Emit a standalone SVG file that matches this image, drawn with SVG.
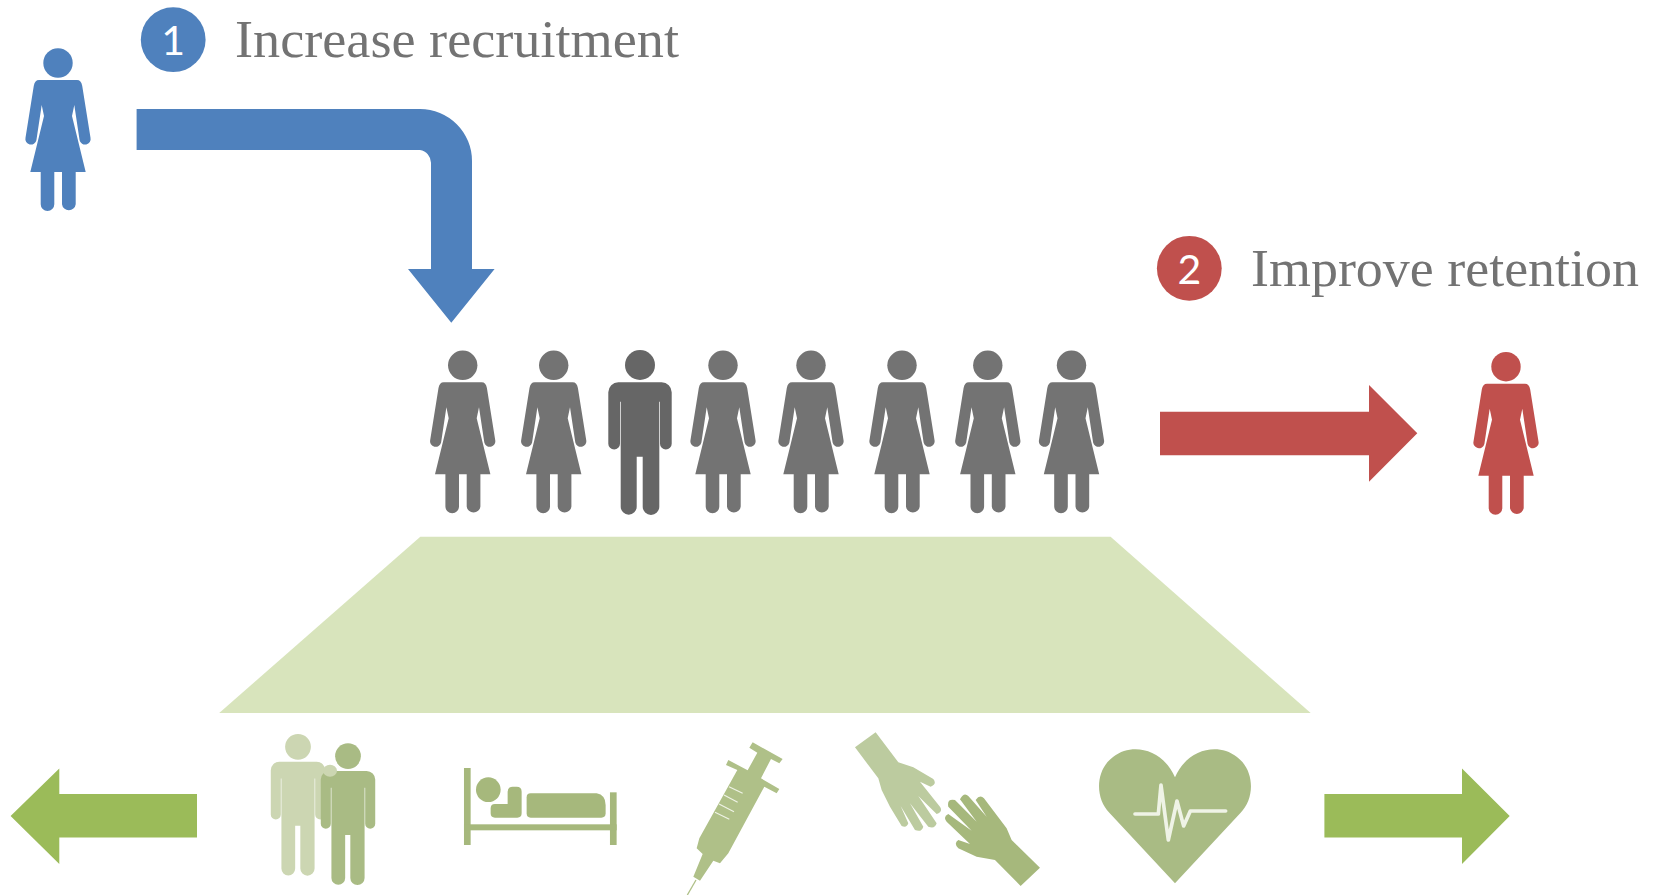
<svg xmlns="http://www.w3.org/2000/svg" width="1660" height="895" viewBox="0 0 1660 895">
<style>
.lbl{font-family:"Liberation Serif","Times New Roman",serif;font-size:52px;fill:#737373}
.num{font-family:Lato,"Open Sans",sans-serif;font-size:41px;fill:#fff;text-anchor:middle}
.blue{fill:#4f81bd}.red{fill:#c0504d}.grey{fill:#737373}.dgrey{fill:#666}
.arrowg{fill:#9bbb59}.pl{fill:#d8e4bc}.g1{fill:#a6b87c}.g2{fill:#a9bb84}.g3{fill:#ccd6b2}.g4{fill:#bccb9f}.g5{fill:#afc088}
</style>
<defs>
<g id="woman"><circle cx="0" cy="35.3" r="14.7"/><path d="M-19,52.3H19Q23.2,52.3 24.2,58L32.5,110A5.5,5.5 0 0 1 21.6,112.5L16.3,77.3L14,88.3L27.7,144.3H17.7V176.5A6.9,6.9 0 0 1 4,176.5V144.3H-3.7V176.5A6.8,6.8 0 0 1 -17.3,176.5V144.3H-27.7L-14,88.3L-16.3,77.3L-21.6,112.5A5.5,5.5 0 0 1 -32.5,110L-24.2,58Q-23.2,52.3 -19,52.3Z"/></g>
<g id="man"><circle cx="0" cy="35" r="15"/><path d="M-21.7,52.3H21.7A10,10 0 0 1 31.7,62.3V113.7A5.85,5.85 0 0 1 20,113.7V71.7H19.3V176.7A8.3,8.3 0 0 1 2.7,176.7V126.7H-3.3V176.7A8,8 0 0 1 -19.3,176.7V71.7H-20V113.7A5.85,5.85 0 0 1 -31.7,113.7V62.3A10,10 0 0 1 -21.7,52.3Z"/></g>
</defs>
<g id="connectors">
<path id="arrow-recruit" class="blue" d="M136.6,109H420A52,52 0 0 1 472,161V269H494.6L451.3,322.7L408,269H431V163A13,13 0 0 0 420,150H136.6Z"/>
<path id="arrow-retain" class="red" d="M1160,411.7H1369V385L1417.3,433.3L1369,481.7V455.3H1160Z"/>
<path id="arrow-left" class="arrowg" d="M197,794H59.3V768.6L10.6,816L59.3,864V837.5H197Z"/>
<path id="arrow-right" class="arrowg" d="M1324.4,794H1462V768.6L1509.7,816L1462,864V837.5H1324.4Z"/>
</g>
<g id="badge-1"><circle class="blue" cx="173.2" cy="39.7" r="32.4"/><text class="num" x="173.2" y="55">1</text></g>
<g id="label-1"><text class="lbl" x="235" y="56.7" textLength="444" lengthAdjust="spacingAndGlyphs">Increase recruitment</text></g>
<g id="badge-2"><circle class="red" cx="1189.3" cy="268.3" r="32.4"/><text class="num" x="1189.3" y="284">2</text></g>
<g id="label-2"><text class="lbl" x="1251" y="286" textLength="388" lengthAdjust="spacingAndGlyphs">Improve retention</text></g>
<use id="woman-blue" href="#woman" class="blue" x="58" y="27.7"/>
<use id="woman-red" href="#woman" class="red" x="1506" y="331.4"/>
<g id="cohort">
<use id="p1" href="#woman" class="grey" x="462.7" y="330"/>
<use id="p2" href="#woman" class="grey" x="553.7" y="330"/>
<use id="p3" href="#man" class="dgrey" x="640" y="330"/>
<use id="p4" href="#woman" class="grey" x="723" y="330"/>
<use id="p5" href="#woman" class="grey" x="811" y="330"/>
<use id="p6" href="#woman" class="grey" x="902" y="330"/>
<use id="p7" href="#woman" class="grey" x="987.8" y="330"/>
<use id="p8" href="#woman" class="grey" x="1071.5" y="330"/>
</g>
<polygon id="platform" class="pl" points="420.3,536.8 1110.6,536.8 1310.7,713 219.2,713"/>
<g id="icon-carers">
<use href="#man" class="g3" transform="translate(298,716.8) scale(.859)"/>
<use href="#man" class="g2" transform="translate(348,726.1) scale(.859)"/>
<ellipse class="g3" cx="330" cy="770.7" rx="7" ry="6"/>
</g>
<g id="icon-bed" class="g1" transform="translate(240,710) scale(.3333)">
<rect x="672" y="174" width="20" height="231"/>
<rect x="1110" y="247" width="20" height="158"/>
<rect x="672" y="343" width="458" height="18"/>
<circle cx="745" cy="239" r="37"/>
<path d="M818,230H830Q845,230 845,245V310Q845,323 832,323H765Q752,323 752,310V295Q752,282 765,282H803V245Q803,230 818,230Z"/>
<path d="M872,250H1070Q1097,255 1097,285V310Q1097,323 1084,323H872Q860,323 860,310V262Q860,250 872,250Z"/>
</g>
<g id="icon-syringe" transform="translate(660,710) scale(.3333)">
<path class="g5" d="M278,97L368,147L358,160L333,147L303,205L358,237L350,250L313,230L205,430L180,460L160,452L120,512L100,500L128,432L110,415L118,385L232,180L198,165L205,150L263,181L292,128L268,113Z"/>
<path d="M108,510L82,555" stroke="#afc088" stroke-width="4" fill="none"/>
<path d="M207,230L248,250M192,255L233,277M177,282L222,305M165,307L208,328" stroke="#eff3e6" stroke-width="3.5" fill="none"/>
</g>
<g id="icon-hands" transform="translate(660,710) scale(.3333)">
<path class="g4" d="M585,112L647,67L715,157L760,172L820,207Q832,222 812,230L780,215L840,290Q850,305 830,312L775,258L830,340Q825,358 805,350L750,280L790,350Q785,368 765,360L722,288L745,340Q740,355 725,348L690,290L665,240L655,205Z"/>
<path class="g1" d="M1140,473L1082,528L1005,450L950,440L895,415Q880,400 895,390L930,402L860,335Q848,320 865,312L935,362L865,290Q860,265 885,270L950,335L900,268Q912,245 925,258L980,320L947,270Q960,252 972,265L1040,355L1055,390Z"/>
</g>
<g id="icon-heart" transform="translate(1080,720) scale(.3333)">
<path class="g2" d="M285,490L88,278C45,235 45,150 100,110C160,65 250,90 285,172C320,90 410,65 470,110C525,150 525,235 482,278Z"/>
<polyline points="165,282 235,282 243,195 265,360 291,243 311,318 331,273 437,273" fill="none" stroke="#eff3e6" stroke-width="11" stroke-linejoin="round" stroke-linecap="round"/>
</g>
</svg>
